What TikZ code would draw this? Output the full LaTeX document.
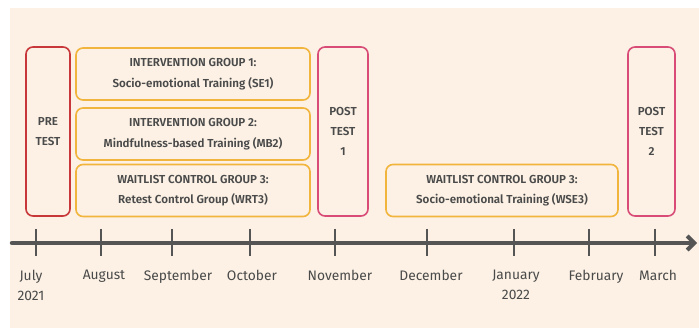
\documentclass[tikz,border=0pt]{standalone}
\usepackage{fontspec}
\setmainfont{Fira Sans}[BoldFont={Fira Sans SemiBold}]
\usetikzlibrary{arrows.meta}
\definecolor{cream}{HTML}{FCF1E4}
\definecolor{txtgrey}{HTML}{4A4A4A}
\definecolor{axisgrey}{HTML}{555555}
\definecolor{testred}{HTML}{C8383A}
\definecolor{testpink}{HTML}{D94C78}
\definecolor{groupyellow}{HTML}{F1B43C}
\begin{document}
\begin{tikzpicture}[x=1pt,y=-1pt,text=txtgrey]
\tikzstyle{testbox}=[draw,line width=1.6pt,rounded corners=7pt,align=center,
  minimum height=169pt,inner sep=0pt,font=\fontsize{11.6}{20}\selectfont\bfseries]
\tikzstyle{groupbox}=[draw=groupyellow,line width=1.6pt,rounded corners=7pt,align=center,
  minimum height=52pt,inner sep=0pt,font=\fontsize{11.6}{20.5}\selectfont\bfseries]
\tikzstyle{tick}=[draw=axisgrey,line width=2.6pt]
\tikzstyle{month}=[align=center,anchor=north,inner sep=0pt,font=\fontsize{13.8}{20.5}\selectfont]
\useasboundingbox (0,0) rectangle (699,328);
\fill[cream] (10,8) rectangle (699,328);
% tests
\node[testbox,draw=testred,minimum width=44pt] (pre) at (48,131.5) {PRE\\TEST};
\node[testbox,draw=testpink,minimum width=50pt] (post1) at (343,131.5) {POST\\TEST\\1};
\node[testbox,draw=testpink,minimum width=47pt] (post2) at (651.5,131.5) {POST\\TEST\\2};
% groups
\node[groupbox,minimum width=234pt] (SE1) at (193,74) {INTERVENTION GROUP 1:\\Socio-emotional Training (SE1)};
\node[groupbox,minimum width=234pt] (MB2) at (193,134) {INTERVENTION GROUP 2:\\Mindfulness-based Training (MB2)};
\node[groupbox,minimum width=234pt] (WRT3) at (193,190.5) {WAITLIST CONTROL GROUP 3:\\Retest Control Group (WRT3)};
\node[groupbox,minimum width=232pt] (WSE3) at (502,190.5) {WAITLIST CONTROL GROUP 3:\\Socio-emotional Training (WSE3)};
% timeline
\coordinate (axisstart) at (12,243);
\coordinate (axisend) at (697,243);
\draw[axisgrey,line width=4.5pt,line cap=round,-{Straight Barb[length=7pt,width=14pt,line width=4pt]}] (axisstart) -- (axisend);
\foreach \xx/\name/\lab/\lx in {36/jul/July\\2021/31, 101/aug/August/104, 172/sep/September/178,
  250/oct/October/252, 335/nov/November/340, 427/dec/December/431, 514/jan/January\\2022/516,
  589/feb/February/596, 655/mar/March/658}{
  \draw[tick] (\xx,229) -- (\xx,256);
  \node[month] (\name) at (\lx,269.5) {\lab};
}
\end{tikzpicture}
\end{document}
